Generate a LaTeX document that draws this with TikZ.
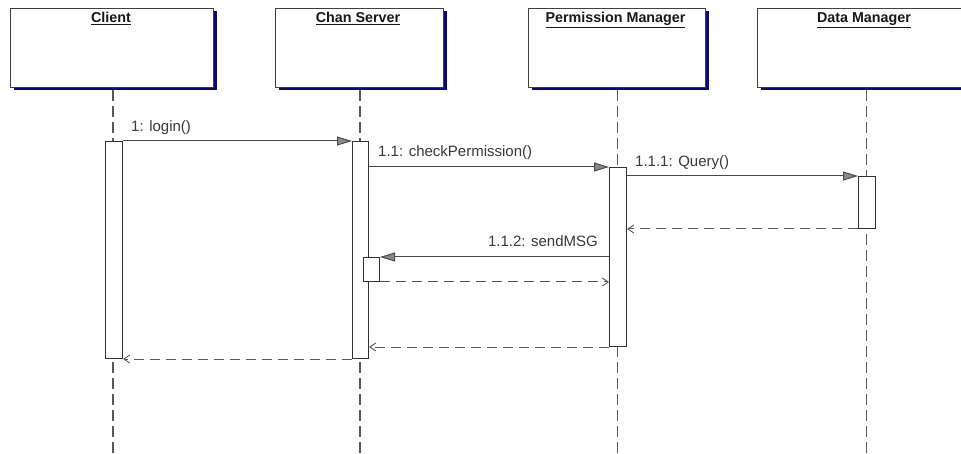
\documentclass[tikz,border=0pt]{standalone}
\usepackage{fontspec}
\setmainfont{Liberation Sans}
\usetikzlibrary{arrows.meta,shadows}

\definecolor{navyshadow}{HTML}{0A0A78}
\definecolor{msgline}{HTML}{4A4A4A}
\definecolor{retline}{HTML}{5A5A5A}
\definecolor{labeltext}{HTML}{3A3A3A}
\definecolor{headfill}{HTML}{8A8A8A}

\tikzset{
  objbox/.style={draw=black!75, fill=white, line width=1pt, anchor=north west,
    minimum height=79pt, inner sep=0pt,
    drop shadow={shadow xshift=3pt, shadow yshift=-3pt, fill=navyshadow, opacity=1}},
  objname/.style={anchor=base, text=black!90,
    font=\fontsize{14.3}{16}\selectfont\bfseries},
  lifeline/.style={draw=retline, line width=1.2pt, dash pattern=on 11pt off 5pt},
  actbox/.style={draw=black!80, fill=white, line width=1pt, anchor=north west,
    inner sep=0pt},
  callmsg/.style={draw=msgline, line width=1pt,
    -{Triangle[length=15pt, width=9pt, fill=headfill, color=black!70]}},
  retmsg/.style={draw=retline, line width=1pt, dash pattern=on 10pt off 6pt,
    -{Straight Barb[length=6pt, width=8pt, line width=0.9pt]}},
  msglabel/.style={text=labeltext, inner sep=0pt,
    font=\fontsize{15}{17}\selectfont},
}

\begin{document}
\begin{tikzpicture}[x=1pt, y=-1pt]
\useasboundingbox (0,0) rectangle (961,454);
\clip (0,0) rectangle (961,454);
\fill[white] (0,0) rectangle (961,454);

% lower ends of the lifelines
\coordinate (clientEnd) at (113,460);
\coordinate (serverEnd) at (360,460);
\coordinate (permEnd)   at (617.5,460);
\coordinate (dataEnd)   at (866.5,460);

% lifelines (drawn first, the boxes cover them)
\draw[lifeline] (113,90)   -- (clientEnd);
\draw[lifeline] (360,90)   -- (serverEnd);
\draw[lifeline] (617.5,90) -- (permEnd);
\draw[lifeline] (866.5,90) -- (dataEnd);

% object boxes
\node[objbox, minimum width=203pt] (client) at (10,8)  {};
\node[objbox, minimum width=168pt] (server) at (275,8) {};
\node[objbox, minimum width=177pt] (perm)   at (528,8) {};
\node[objbox, minimum width=218pt] (data)   at (757,8) {};

\node[objname] (clientName) at (111,23)   {\underline{Client}};
\node[objname] (serverName) at (358,23)   {\underline{Chan Server}};
\node[objname] (permName)   at (615.5,23) {\underline{Permission Manager}};
\node[objname] (dataName)   at (864,23)   {\underline{Data Manager}};

% activation bars
\node[actbox, minimum width=17pt, minimum height=217pt] (a1) at (105,141) {};
\node[actbox, minimum width=16pt, minimum height=217pt] (a2) at (352,141) {};
\node[actbox, minimum width=17pt, minimum height=179pt] (a3) at (609,167) {};
\node[actbox, minimum width=17pt, minimum height=52pt]  (a4) at (858,176) {};
\node[actbox, minimum width=16pt, minimum height=24pt]  (a5) at (363,257) {};

% calls
\draw[callmsg] (a1.north east) -- (a2.north west);
\draw[callmsg] (a2.east |- a3.north) -- (a3.north west);
\draw[callmsg] (a3.east |- a4.north) -- (a4.north west);
\draw[callmsg] (a3.west |- a5.north) -- (a5.north east);

% returns
\draw[retmsg] (a4.south west) -- (a3.east |- a4.south);
\draw[retmsg] (a5.south east) -- (a3.west |- a5.south);
\draw[retmsg] (a3.south west) -- (a2.east |- a3.south);
\draw[retmsg] (a2.south west) -- (a1.south east);

% message labels
\node[msglabel, anchor=base west] (l1)   at (131,132) {1: login()};
\node[msglabel, anchor=base west] (l11)  at (378,157) {1.1: checkPermission()};
\node[msglabel, anchor=base west] (l111) at (635,167) {1.1.1: Query()};
\node[msglabel, anchor=base east] (l112) at (598,247) {1.1.2: sendMSG};
\end{tikzpicture}
\end{document}
